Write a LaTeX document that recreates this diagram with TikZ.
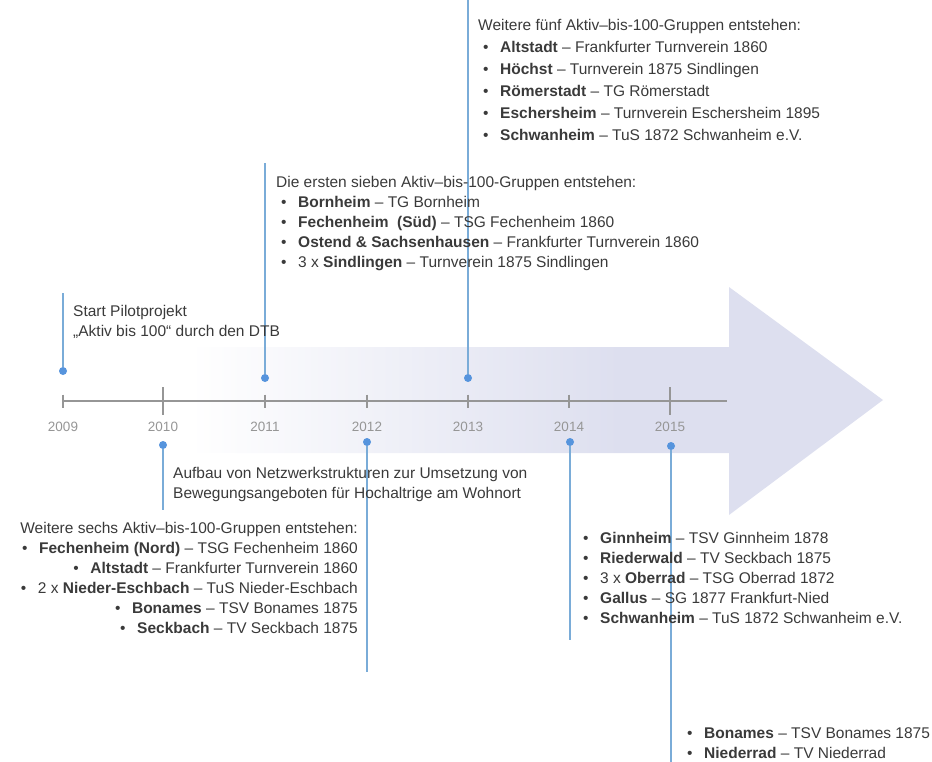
\documentclass[tikz,border=0pt]{standalone}
\usepackage{fontspec}
\setmainfont{Liberation Sans}
\usetikzlibrary{positioning}

\definecolor{arrowfill}{RGB}{221,223,239}
\definecolor{stemblue}{RGB}{122,172,216}
\definecolor{dotblue}{RGB}{86,148,221}
\definecolor{axisgray}{RGB}{150,150,150}
\definecolor{txtgray}{RGB}{58,58,58}

% fade of the arrow from white to lavender
\pgfdeclarehorizontalshading{arrowfade}{100bp}{color(0bp)=(white); color(25bp)=(white); color(56bp)=(arrowfill); color(100bp)=(arrowfill)}

% bullet of a list line
\newcommand{\bul}{\makebox[17pt][l]{\textbullet}}
\newcommand{\itm}{\hspace*{5pt}\bul}

\begin{document}
\begin{tikzpicture}[x=1pt,y=-1pt]
\tikzstyle{stem}=[draw=stemblue, line width=1.4pt]
\tikzstyle{dot}=[circle, fill=dotblue, inner sep=0pt, minimum size=8pt]
\tikzstyle{year}=[text=axisgray, inner sep=0pt, font=\fontsize{13.5}{16}\selectfont]
\tikzstyle{txt}=[text=txtgray, align=left, inner sep=0pt, font=\fontsize{15.5}{20}\selectfont]

\useasboundingbox (0,0) rectangle (932,762);

% the big arrow behind the axis
\shade[shading=arrowfade] (190,347) -- (729,347) -- (729,287) -- (883,400) -- (729,515) -- (729,453) -- (190,453) -- cycle;

% axis with ticks and years
\draw[axisgray, line width=1.2pt] (63,401) -- (727,401);
\foreach \yr/\x/\h in {2009/63/6.5, 2010/163/14, 2011/265/6.5, 2012/367/6.5, 2013/468/6.5, 2014/569/6.5, 2015/670/14} {
  \draw[axisgray, line width=1.2pt] (\x,{401-\h}) -- (\x,{401+\h});
  \node[year] (y\yr) at (\x,427) {\yr};
}

% dots on the timeline
\node[dot] (d2009) at (63,371) {};
\node[dot] (d2010) at (163,445) {};
\node[dot] (d2011) at (265,378) {};
\node[dot] (d2012) at (367,442) {};
\node[dot] (d2013) at (468,378) {};
\node[dot] (d2014) at (570,442) {};
\node[dot] (d2015) at (671,446) {};

% free ends of the stems
\coordinate (e2009) at (63,293);
\coordinate (e2010) at (163,510);
\coordinate (e2011) at (265,163);
\coordinate (e2012) at (367,672);
\coordinate (e2013) at (468,0);
\coordinate (e2014) at (570,640);
\coordinate (e2015) at (671,762);

\foreach \yr in {2009,2010,2011,2012,2013,2014,2015}
  \draw[stem] (d\yr) -- (e\yr);

% texts
\node[txt, anchor=north west] (t2009) at (73,305) {Start Pilotprojekt\\„Aktiv bis 100“ durch den DTB};
\node[txt, anchor=north west] (t2010) at (173,467) {Aufbau von Netzwerkstrukturen zur Umsetzung von\\Bewegungsangeboten für Hochaltrige am Wohnort};
\node[txt, anchor=north west] (t2011) at (276,176) {Die ersten sieben Aktiv–bis-100-Gruppen entstehen:\\
  \itm\textbf{Bornheim} – TG Bornheim\\
  \itm\textbf{Fechenheim~ (Süd)} – TSG Fechenheim 1860\\
  \itm\textbf{Ostend \& Sachsenhausen} – Frankfurter Turnverein 1860\\
  \itm 3 x \textbf{Sindlingen} – Turnverein 1875 Sindlingen};
\node[txt, anchor=north east, align=right] (t2012) at (358,522) {Weitere sechs Aktiv–bis-100-Gruppen entstehen:\\
  \bul\textbf{Fechenheim (Nord)} – TSG Fechenheim 1860\\
  \bul\textbf{Altstadt} – Frankfurter Turnverein 1860\\
  \bul 2 x \textbf{Nieder-Eschbach} – TuS Nieder-Eschbach\\
  \bul\textbf{Bonames} – TSV Bonames 1875\\
  \bul\textbf{Seckbach} – TV Seckbach 1875};
\node[txt, anchor=north west, font=\fontsize{15.5}{22}\selectfont] (t2013) at (478,19) {Weitere fünf Aktiv–bis-100-Gruppen entstehen:\\
  \itm\textbf{Altstadt} – Frankfurter Turnverein 1860\\
  \itm\textbf{Höchst} – Turnverein 1875 Sindlingen\\
  \itm\textbf{Römerstadt} – TG Römerstadt\\
  \itm\textbf{Eschersheim} – Turnverein Eschersheim 1895\\
  \itm\textbf{Schwanheim} – TuS 1872 Schwanheim e.V.};
\node[txt, anchor=north west] (t2014) at (583,532) {\bul\textbf{Ginnheim} – TSV Ginnheim 1878\\
  \bul\textbf{Riederwald} – TV Seckbach 1875\\
  \bul 3 x \textbf{Oberrad} – TSG Oberrad 1872\\
  \bul\textbf{Gallus} – SG 1877 Frankfurt-Nied\\
  \bul\textbf{Schwanheim} – TuS 1872 Schwanheim e.V.};
\node[txt, anchor=north west] (t2015) at (687,727) {\bul\textbf{Bonames} – TSV Bonames 1875\\
  \bul\textbf{Niederrad} – TV Niederrad};

\end{tikzpicture}
\end{document}
